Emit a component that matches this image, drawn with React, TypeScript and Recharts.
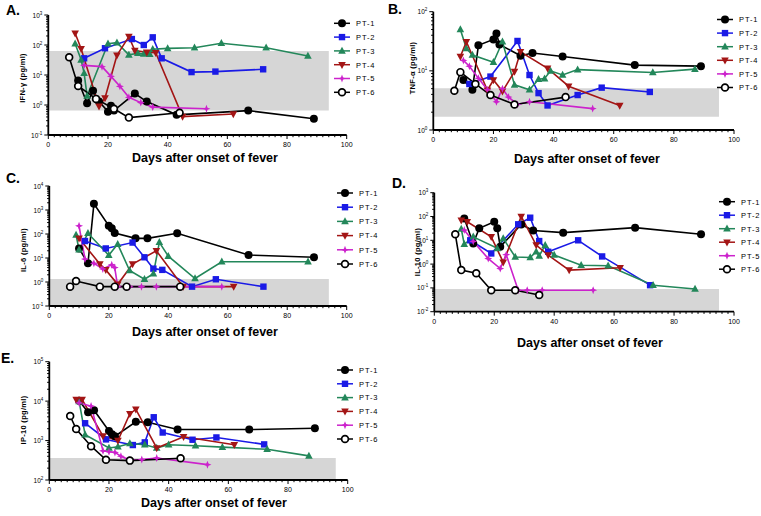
import React from 'react';
import { LineChart, Line, XAxis, YAxis, ReferenceArea } from 'recharts';

type Pt = [number, number];

const PATIENTS = ['PT-1', 'PT-2', 'PT-3', 'PT-4', 'PT-5', 'PT-6'];
const COLORS = ['#000000', '#1a1ae6', '#23875a', '#a31515', '#cc22cc', '#000000'];
const X_LABEL = 'Days after onset of fever';

// A. IFN-gamma
const ifnPT1: Pt[] = [[10, 6.5], [13, 1.15], [15, 3], [17, 1.3], [20, 0.6], [21, 0.95], [22, 0.65], [29, 2.4], [33, 1.3], [43, 0.47], [67, 0.65], [89, 0.35]];
const ifnPT2: Pt[] = [[12, 36], [19, 78], [28, 158], [32, 100], [35, 180], [38, 36], [48, 12.5], [56, 13], [72, 15.5]];
const ifnPT3: Pt[] = [[9, 110], [11, 32], [12, 11.5], [13, 2], [20, 110], [23, 120], [27, 47], [30, 53], [32, 50], [34, 49], [35, 72], [40, 77], [49, 81], [58, 114], [73, 81], [87, 43]];
const ifnPT4: Pt[] = [[9, 245], [11, 75], [17, 0.9], [19, 1.7], [23, 45], [27, 190], [29, 65], [33, 57], [36, 55], [45, 0.41], [62, 0.5]];
const ifnPT5: Pt[] = [[12, 21], [18, 19], [21, 9], [24, 4.2], [27, 1.8], [31, 1.2], [35, 0.85], [53, 0.75]];
const ifnPT6: Pt[] = [[7, 39], [10, 4.3], [16, 1.6], [22, 0.75], [27, 0.38], [44, 0.55]];

// B. TNF-alpha
const tnfPT1: Pt[] = [[10, 7], [13, 4.8], [15, 27], [20, 34], [21, 43], [22, 28], [29, 18], [33, 20], [43, 17.5], [67, 12.5], [89, 12]];
const tnfPT2: Pt[] = [[12, 6], [19, 8], [28, 32], [32, 8.5], [35, 4.2], [38, 2.6], [48, 3.9], [56, 5.2], [72, 4.4]];
const tnfPT3: Pt[] = [[9, 50], [11, 24], [13, 18.5], [20, 14], [23, 31], [27, 5.8], [32, 4.8], [35, 7.2], [37, 7.4], [39, 10], [43, 8.5], [48, 10.5], [73, 9.4], [87, 10.7]];
const tnfPT4: Pt[] = [[9, 17.5], [11, 31], [18, 4.7], [20, 7], [23, 4.5], [27, 9.7], [29, 21], [38, 11], [45, 5.5], [62, 2.6]];
const tnfPT5: Pt[] = [[10, 15], [12, 12], [15, 7.5], [18, 4.8], [21, 3], [23, 5], [25, 3.6], [28, 2.7], [32, 3], [53, 2.3]];
const tnfPT6: Pt[] = [[7, 4.6], [9, 9.5], [14, 6], [19, 3.9], [27, 2.7], [44, 3.6]];

// C. IL-6
const il6PT1: Pt[] = [[10, 25], [13, 6], [15, 1800], [20, 220], [21, 175], [22, 110], [29, 66], [33, 66], [43, 107], [67, 13.3], [89, 10.7]];
const il6PT2: Pt[] = [[12, 51], [19, 25], [28, 44], [32, 10.7], [35, 3.6], [38, 3.2], [48, 0.64], [56, 1.3], [72, 0.64]];
const il6PT3: Pt[] = [[9, 91], [10, 22], [13, 107], [20, 13], [23, 38], [27, 3], [32, 1.3], [35, 2.2], [37, 45], [40, 12], [49, 1.4], [58, 7], [87, 7]];
const il6PT4: Pt[] = [[10, 66], [17, 5.6], [19, 3.2], [23, 0.8], [28, 5.6], [36, 20], [45, 0.64], [62, 0.64]];
const il6PT5: Pt[] = [[10, 220], [12, 9], [15, 6], [18, 3.5], [21, 5.2], [22, 4], [23, 0.64], [27, 0.64], [31, 0.64], [36, 0.64], [44, 0.64], [58, 0.64]];
const il6PT6: Pt[] = [[7, 0.64], [9, 1.1], [17, 0.64], [22, 0.64], [26, 0.64], [44, 0.64]];

// D. IL-10
const il10PT1: Pt[] = [[10, 83], [13, 7.4], [15, 32], [20, 60], [21, 32], [22, 5.4], [29, 46], [33, 26], [43, 21], [67, 34], [89, 18]];
const il10PT2: Pt[] = [[12, 10], [19, 2.8], [28, 47], [32, 89], [35, 9.3], [38, 3.3], [48, 10], [56, 2.1], [72, 0.13]];
const il10PT3: Pt[] = [[9, 30], [10, 6.8], [13, 14], [21, 4.6], [23, 12], [27, 2], [32, 1.9], [34, 3.3], [35, 2.2], [37, 6.3], [40, 2.4], [49, 0.9], [58, 0.85], [73, 0.13], [87, 0.09]];
const il10PT4: Pt[] = [[9, 70], [11, 60], [19, 14], [23, 1.2], [29, 100], [34, 6.3], [38, 2.4], [45, 0.56], [62, 0.7]];
const il10PT5: Pt[] = [[10, 27], [13, 9], [18, 1.7], [22, 0.65], [24, 2.5], [28, 0.08], [31, 0.08], [36, 0.08], [53, 0.08]];
const il10PT6: Pt[] = [[7, 18], [9, 0.56], [14, 0.41], [19, 0.08], [27, 0.08], [35, 0.05]];

// E. IP-10
const ip10PT1: Pt[] = [[10, 10200], [13, 5200], [15, 5900], [20, 1750], [21, 1440], [22, 1290], [29, 3000], [33, 2900], [43, 1900], [67, 1900], [89, 2050]];
const ip10PT2: Pt[] = [[12, 2750], [19, 1070], [28, 770], [32, 900], [35, 3900], [38, 1600], [48, 1050], [56, 1200], [72, 800]];
const ip10PT3: Pt[] = [[10, 9800], [12, 1400], [20, 650], [23, 700], [27, 840], [32, 780], [36, 650], [40, 780], [49, 740], [58, 680], [73, 600], [87, 410]];
const ip10PT4: Pt[] = [[9, 11000], [11, 11000], [18, 1300], [23, 1000], [27, 4800], [29, 6200], [36, 650], [45, 1250], [62, 780]];
const ip10PT5: Pt[] = [[10, 9000], [14, 7500], [18, 550], [20, 520], [22, 500], [24, 400], [27, 320], [31, 330], [36, 360], [53, 245]];
const ip10PT6: Pt[] = [[7, 4200], [9, 1960], [14, 720], [19, 325], [27, 310], [44, 355]];

// tick labels
const DAY_MAJOR = [0, 20, 40, 60, 80, 100];
const ifnDecades = [-1, 0, 1, 2, 3];
const tnfDecades = [0, 1, 2];
const il6Decades = [-1, 0, 1, 2, 3, 4];
const il10Decades = [-2, -1, 0, 1, 2, 3];
const ip10Decades = [2, 3, 4, 5];

// grey normal-range bands [x2, yLow, yHigh]
const ifnBand = [94, 0.65, 63];
const tnfBand = [95, 1.68, 5.1];
const il6Band = [94, 0.1, 1.33];
const il10Band = [95, 0.01, 0.09];
const ip10Band = [96, 100, 360];

const dayTicks = Array.from({ length: 51 }, (_, i) => i * 2);

const logTicks = (dec: number[]) => {
  const out: number[] = [];
  dec.forEach((d, i) => {
    out.push(Math.pow(10, d));
    if (i < dec.length - 1) for (let k = 2; k <= 9; k++) out.push(k * Math.pow(10, d));
  });
  return out;
};

const Marker = ({ i, cx, cy }: { i: number; cx: number; cy: number }) => {
  const c = COLORS[i];
  if (i === 0) return <circle cx={cx} cy={cy} r={4} fill={c} />;
  if (i === 1) return <rect x={cx - 3.2} y={cy - 3.2} width={6.4} height={6.4} fill={c} />;
  if (i === 2) return <polygon points={`${cx},${cy - 4.2} ${cx + 3.8},${cy + 2.8} ${cx - 3.8},${cy + 2.8}`} fill={c} />;
  if (i === 3) return <polygon points={`${cx - 3.8},${cy - 2.8} ${cx + 3.8},${cy - 2.8} ${cx},${cy + 4.2}`} fill={c} />;
  if (i === 4) {
    const p = [[0, -4], [1.1, -1.1], [4, 0], [1.1, 1.1], [0, 4], [-1.1, 1.1], [-4, 0], [-1.1, -1.1]];
    return <polygon points={p.map(([a, b]) => `${cx + a},${cy + b}`).join(' ')} fill={c} />;
  }
  return <circle cx={cx} cy={cy} r={3.4} fill="#fff" stroke={c} strokeWidth={1.7} />;
};

const XTick = ({ x, y, payload }: any) => {
  const v = payload.value;
  const major = DAY_MAJOR.includes(v);
  return (
    <g>
      <line x1={x} y1={y} x2={x} y2={y + (major ? 4 : 2.2)} stroke="#000" strokeWidth={1} />
      {major && (
        <text x={x} y={y + 12} textAnchor="middle" fontSize={7} fill="#000">
          {v}
        </text>
      )}
    </g>
  );
};

const YTick = ({ x, y, payload }: any) => {
  const e = Math.log10(payload.value);
  const major = Math.abs(e - Math.round(e)) < 1e-6;
  return (
    <g>
      <line x1={x} y1={y} x2={x - (major ? 4 : 2.2)} y2={y} stroke="#000" strokeWidth={1} />
      {major && (
        <text x={x - 6} y={y + 2.5} textAnchor="end" fontSize={6.5} fill="#000">
          10<tspan fontSize={4.5} dy={-3}>{Math.round(e)}</tspan>
        </text>
      )}
    </g>
  );
};

const PANELS = [
  {
    letter: 'A.', yTitle: 'IFN-\u03b3 (pg/ml)', series: [ifnPT1, ifnPT2, ifnPT3, ifnPT4, ifnPT5, ifnPT6],
    decades: ifnDecades, band: ifnBand,
    left: 0, top: 0, w: 380, h: 170, plot: { l: 48.3, r: 346.7, t: 15, b: 135 },
    letterPos: [6, 15], yTitlePos: [22, 78], xTitlePos: [205, 162], legend: [342, 23.3, 13.8],
  },
  {
    letter: 'B.', yTitle: 'TNF-\u03b1 (pg/ml)', series: [tnfPT1, tnfPT2, tnfPT3, tnfPT4, tnfPT5, tnfPT6],
    decades: tnfDecades, band: tnfBand,
    left: 380, top: 0, w: 381, h: 170, plot: { l: 53.3, r: 354, t: 11.7, b: 130 },
    letterPos: [8, 14], yTitlePos: [32, 68], xTitlePos: [207, 163], legend: [345, 19.5, 13.6],
  },
  {
    letter: 'C.', yTitle: 'IL-6 (pg/ml)', series: [il6PT1, il6PT2, il6PT3, il6PT4, il6PT5, il6PT6],
    decades: il6Decades, band: il6Band,
    left: 0, top: 170, w: 380, h: 170, plot: { l: 49.3, r: 346.7, t: 16, b: 136 },
    letterPos: [6, 13], yTitlePos: [23, 80], xTitlePos: [205, 166], legend: [345, 23, 14.2],
  },
  {
    letter: 'D.', yTitle: 'IL-10 (pg/ml)', series: [il10PT1, il10PT2, il10PT3, il10PT4, il10PT5, il10PT6],
    decades: il10Decades, band: il10Band,
    left: 380, top: 170, w: 381, h: 180, plot: { l: 54.3, r: 354, t: 22.7, b: 141.7 },
    letterPos: [12, 18], yTitlePos: [37, 82], xTitlePos: [210, 177], legend: [347, 31.7, 13.5],
  },
  {
    letter: 'E.', yTitle: 'IP-10 (pg/ml)', series: [ip10PT1, ip10PT2, ip10PT3, ip10PT4, ip10PT5, ip10PT6],
    decades: ip10Decades, band: ip10Band,
    left: 0, top: 340, w: 380, h: 176, plot: { l: 49.3, r: 347.7, t: 21.7, b: 140 },
    letterPos: [1, 23], yTitlePos: [23, 80], xTitlePos: [214, 167], legend: [345, 30, 13.8],
  },
];

const Panel = ({ p }: { p: (typeof PANELS)[number] }) => {
  const { plot } = p;
  const dec = p.decades;
  const yDomain = [Math.pow(10, dec[0]), Math.pow(10, dec[dec.length - 1])];
  const [lx, ly, step] = p.legend;
  return (
    <div style={{ position: 'absolute', left: p.left, top: p.top, width: p.w, height: p.h }}>
      <LineChart
        width={p.w}
        height={p.h}
        margin={{ top: plot.t, right: p.w - plot.r, bottom: 0, left: 0 }}
      >
        <XAxis
          type="number"
          dataKey="day"
          domain={[0, 100]}
          ticks={dayTicks}
          interval={0}
          tickSize={0}
          tickMargin={0}
          tickLine={false}
          tick={<XTick />}
          height={p.h - plot.b}
          axisLine={{ stroke: '#000', strokeWidth: 1.8 }}
          allowDuplicatedCategory={false}
        />
        <YAxis
          type="number"
          scale="log"
          domain={yDomain}
          allowDataOverflow
          ticks={logTicks(dec)}
          interval={0}
          tickSize={0}
          tickMargin={0}
          tickLine={false}
          tick={<YTick />}
          width={plot.l}
          axisLine={{ stroke: '#000', strokeWidth: 1.8 }}
        />
        <ReferenceArea
          x1={0}
          x2={p.band[0]}
          y1={p.band[1]}
          y2={p.band[2]}
          fill="#d6d6d6"
          fillOpacity={1}
          stroke="none"
        />
        {p.series.map((s, i) => (
          <Line
            key={PATIENTS[i]}
            name={PATIENTS[i]}
            data={s.map(([day, v]) => ({ day, v }))}
            dataKey="v"
            stroke={COLORS[i]}
            strokeWidth={1.6}
            isAnimationActive={false}
            dot={(d: any) => <Marker key={d.index} i={i} cx={d.cx} cy={d.cy} />}
            activeDot={false}
          />
        ))}
      </LineChart>
      <svg
        width={p.w}
        height={p.h}
        style={{ position: 'absolute', left: 0, top: 0, pointerEvents: 'none' }}
      >
        <text x={p.letterPos[0]} y={p.letterPos[1]} fontSize={14} fontWeight="bold">
          {p.letter}
        </text>
        <text
          x={p.yTitlePos[0]}
          y={p.yTitlePos[1]}
          transform={`rotate(-90 ${p.yTitlePos[0]} ${p.yTitlePos[1]})`}
          textAnchor="middle"
          dominantBaseline="central"
          fontSize={7.5}
          fontWeight="bold"
          letterSpacing={0.3}
        >
          {p.yTitle}
        </text>
        <text x={p.xTitlePos[0]} y={p.xTitlePos[1]} textAnchor="middle" fontSize={12.5} fontWeight="bold">
          {X_LABEL}
        </text>
        {PATIENTS.map((name, i) => {
          const y = ly + i * step;
          return (
            <g key={name}>
              <line x1={lx - 8} y1={y} x2={lx + 8} y2={y} stroke={COLORS[i]} strokeWidth={1.5} />
              <Marker i={i} cx={lx} cy={y} />
              <text x={lx + 14} y={y + 2.8} fontSize={7.5} letterSpacing={0.9}>
                {name}
              </text>
            </g>
          );
        })}
      </svg>
    </div>
  );
}

export default function App() {
  return (
    <div
      style={{
        position: 'absolute',
        left: 0,
        top: 0,
        width: 761,
        height: 516,
        background: '#fff',
        fontFamily: '"Liberation Sans", Arial, sans-serif',
      }}
    >
      {PANELS.map((p) => (
        <Panel key={p.letter} p={p} />
      ))}
    </div>
  );
}
